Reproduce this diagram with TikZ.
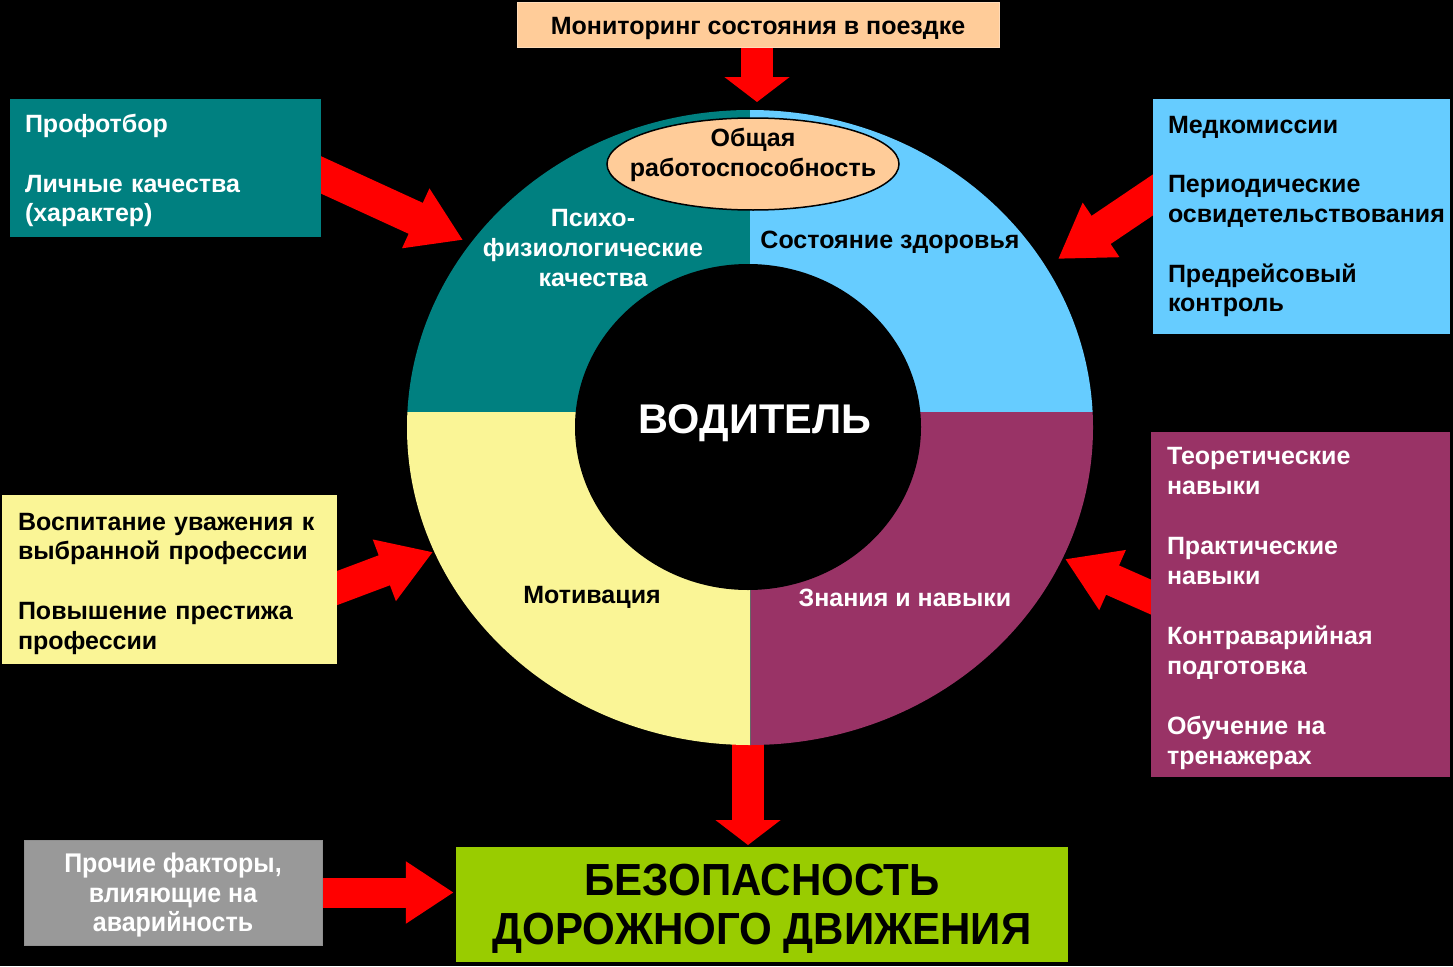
\documentclass[tikz,border=0pt]{standalone}
\usepackage{fontspec}
\setmainfont{Liberation Sans}
\newfontfamily\condfont[FakeStretch=0.935]{Liberation Sans}
\newfontfamily\greyfont[FakeStretch=0.925]{Liberation Sans}
\usetikzlibrary{arrows.meta,shapes.geometric}
\definecolor{cTeal}{HTML}{008080}
\definecolor{cSky}{HTML}{66CCFF}
\definecolor{cYel}{HTML}{FAF596}
\definecolor{cPlum}{HTML}{993366}
\definecolor{cPeach}{HTML}{FFCC99}
\definecolor{cLime}{HTML}{99CC00}
\definecolor{cGrey}{HTML}{999999}
\definecolor{cRed}{HTML}{FF0000}
\pgfdeclarelayer{bg}
\pgfdeclarelayer{arr}
\pgfsetlayers{bg,arr,main}
\begin{document}
\begin{tikzpicture}[x=1pt,y=-1pt,
  txt/.style={font=\fontsize{25}{29.75}\selectfont\bfseries},
  infobox/.style={txt, rectangle, inner xsep=15pt, inner ysep=0pt, align=left},
  blockarrow/.style={draw=cRed, line width=34pt, -{Triangle[length=52pt,width=62pt]}},
  vblockarrow/.style={draw=cRed, line width=32pt, -{Triangle[length=25pt,width=64pt]}},
]
\begin{pgfonlayer}{bg}
\fill[black] (0,0) rectangle (1453,966);
\end{pgfonlayer}
\useasboundingbox (0,0) rectangle (1453,966);

% ring
\node[ellipse, minimum width=686pt, minimum height=635pt, inner sep=0pt] (ring) at (750,427.5) {};
\begin{scope}
\clip (750,427.5) ellipse [x radius=343pt, y radius=317.5pt];
\fill[cTeal] (400,100) rectangle (750,412);
\fill[cSky] (750,100) rectangle (1100,412);
\fill[cYel] (400,412) rectangle (750,750);
\fill[cPlum] (750,412) rectangle (1100,750);
\draw[black!60, line width=0.8pt] (750,585) -- (750,750);
\end{scope}
\fill[black] (748,427) ellipse [x radius=173pt, y radius=163pt];

\node[txt, text=white, font=\fontsize{41.5}{48}\selectfont\bfseries, anchor=base] (driver) at (755,433) {ВОДИТЕЛЬ};

\node[ellipse, draw=black, line width=1.5pt, fill=cPeach, minimum width=292pt, minimum height=92pt, inner sep=0pt] (ovl) at (753,164) {};
\node[txt, align=center, text=black] (ovlText) at ([yshift=9pt]ovl.center) {Общая\\работоспособность};

\node[txt, text=white, align=center] (psy) at (593,248) {Психо-\\физиологические\\качества};
\node[txt, text=black, anchor=base] (health) at (890,248) {Состояние здоровья};
\node[txt, text=black, anchor=base] (motiv) at (592,603) {Мотивация};
\node[txt, text=white, anchor=base] (skill) at (905,606) {Знания и навыки};

% boxes
\node[txt, rectangle, fill=cPeach, draw=cPeach!70!white, minimum width=482pt, minimum height=45pt, inner sep=0pt, text height=21pt, text depth=0pt] (top) at (758,24.5) {Мониторинг состояния в поездке};

\node[infobox, fill=cTeal, text=white, minimum width=311pt, minimum height=138pt, text width=281pt] (prof) at (165.5,168)
  {\rule{0pt}{23.5pt}Профотбор\\[29.75pt]Личные качества\\(характер)};

\node[infobox, fill=cSky, text=black, minimum width=297pt, minimum height=235pt, text width=267pt] (med) at (1301.5,216.5)
  {Медкомиссии\\[29.75pt]Периодические\\освидетельствования\\[29.75pt]Предрейсовый\\контроль};

\node[infobox, fill=cYel, text=black, inner xsep=16pt, minimum width=335pt, minimum height=169pt, text width=303pt] (yel) at (169.5,579.5)
  {\rule{0pt}{25.2pt}Воспитание уважения к\\выбранной профессии\\[29.75pt]Повышение престижа\\профессии};

\node[infobox, fill=cPlum, text=white, inner xsep=16pt, minimum width=299pt, minimum height=345pt, text width=267pt,
  font=\fontsize{25}{30}\selectfont\bfseries] (plum) at (1300.5,604.5)
  {\rule{0pt}{24.5pt}Теоретические\\навыки\\[30pt]Практические\\навыки\\[30pt]Контраварийная\\подготовка\\[30pt]Обучение на\\тренажерах};

\node[rectangle, fill=cGrey, draw=black!25!cGrey!80!white, text=white, align=center, minimum width=298pt, minimum height=105pt, inner sep=0pt,
  font=\greyfont\bfseries\fontsize{27}{29.5}\selectfont] (grey) at (173,892.5)
  {\rule{0pt}{25.5pt}Прочие факторы,\\влияющие на\\аварийность};

\node[rectangle, fill=cLime, text=black, align=center, minimum width=612pt, minimum height=115pt, inner sep=0pt,
  font=\condfont\bfseries\fontsize{45}{49}\selectfont] (green) at (762,904.5)
  {\rule{0pt}{40.5pt}БЕЗОПАСНОСТЬ\\ДОРОЖНОГО ДВИЖЕНИЯ};

% arrows
\coordinate (tipTop) at (757,102);
\coordinate (tipBot) at (748,845);
\coordinate (tipProf) at (463,240);
\coordinate (tipMed) at (1058,259);
\coordinate (tipYel) at (433,552);
\coordinate (tipPlum) at (1065,559);
\begin{pgfonlayer}{arr}
\draw[vblockarrow, shorten <=-6pt] (top.south -| tipTop) -- (tipTop);
\draw[vblockarrow, shorten <=-6pt] (ring.south -| tipBot) -- (tipBot);
\draw[blockarrow, shorten <=-12pt] (prof.east |- 0,175) -- (tipProf);
\draw[blockarrow, shorten <=-12pt] (med.west |- 0,195) -- (tipMed);
\draw[blockarrow, line width=32pt, shorten <=-12pt] (yel.east |- 0,588) -- (tipYel);
\draw[blockarrow, line width=32pt, shorten <=-12pt] (plum.west |- 0,597) -- (tipPlum);
\draw[blockarrow, line width=30pt, -{Triangle[length=48pt,width=59pt]}, shorten <=-6pt, shorten >=2pt] (grey.east) -- (grey.east -| green.west);
\end{pgfonlayer}
\end{tikzpicture}
\end{document}
